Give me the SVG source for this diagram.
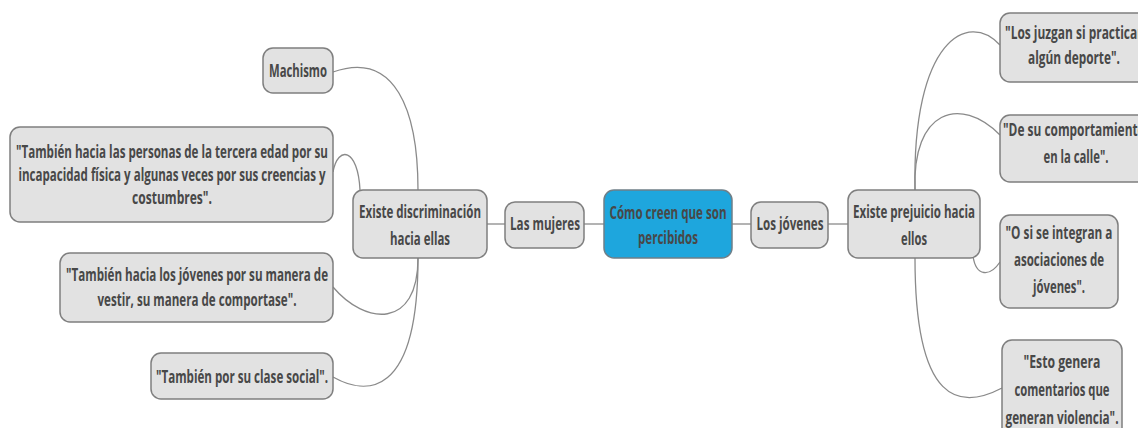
<svg xmlns="http://www.w3.org/2000/svg" width="1138" height="428" viewBox="0 0 1138 428">
<style>
.n{fill:#e2e2e2;stroke:#7f7f7f;stroke-width:1.5}
.c{fill:#1ea6dd;stroke:#6f7f88;stroke-width:1.5}
.t{font-family:"Open Sans","DejaVu Sans",sans-serif;font-weight:700;font-size:18px;fill:#484848;text-anchor:middle}
.l{fill:none;stroke:#8a8a8a;stroke-width:1.3}
</style>
<rect width="1138" height="428" fill="#ffffff"/>
<g id="connectors">
<line class="l" x1="487" y1="224" x2="505" y2="224"/>
<line class="l" x1="584" y1="224" x2="604" y2="224"/>
<line class="l" x1="732" y1="224" x2="751" y2="224"/>
<line class="l" x1="828" y1="224" x2="848" y2="224"/>
<path class="l" d="M418,190 C418,110 395,50 333,72"/>
<path class="l" d="M360,190 C358,148 338,145 333,172"/>
<path class="l" d="M418,258 C418,330 365,325 333,287"/>
<path class="l" d="M418,258 C418,400 365,395 333,377"/>
<path class="l" d="M915,190 C912,40 968,10 1000,45"/>
<path class="l" d="M915,190 C912,110 960,95 1000,135"/>
<path class="l" d="M973,256 C976,277 990,277 1000,262"/>
<path class="l" d="M915,258 C915,405 960,410 1002,388"/>
</g>
<g id="center">
<rect class="c" x="604" y="190" width="128" height="68" rx="10"/>
<text class="t" x="668" y="219" textLength="117" lengthAdjust="spacingAndGlyphs">Cómo creen que son</text>
<text class="t" x="668" y="244" textLength="60" lengthAdjust="spacingAndGlyphs">percibidos</text>
</g>
<g id="mujeres">
<rect class="n" x="505" y="202" width="79" height="46" rx="10"/>
<text class="t" x="545" y="230" textLength="70" lengthAdjust="spacingAndGlyphs">Las mujeres</text>
</g>
<g id="jovenes">
<rect class="n" x="751" y="202" width="77" height="46" rx="10"/>
<text class="t" x="790" y="230" textLength="67" lengthAdjust="spacingAndGlyphs">Los jóvenes</text>
</g>
<g id="discriminacion">
<rect class="n" x="353" y="190" width="134" height="68" rx="10"/>
<text class="t" x="420" y="218" textLength="122" lengthAdjust="spacingAndGlyphs">Existe discriminación</text>
<text class="t" x="420" y="245" textLength="60" lengthAdjust="spacingAndGlyphs">hacia ellas</text>
</g>
<g id="prejuicio">
<rect class="n" x="848" y="190" width="132" height="68" rx="10"/>
<text class="t" x="914" y="218" textLength="122" lengthAdjust="spacingAndGlyphs">Existe prejuicio hacia</text>
<text class="t" x="914" y="245" textLength="26" lengthAdjust="spacingAndGlyphs">ellos</text>
</g>
<g id="machismo">
<rect class="n" x="263" y="48" width="70" height="45" rx="10"/>
<text class="t" x="298" y="77" textLength="58" lengthAdjust="spacingAndGlyphs">Machismo</text>
</g>
<g id="tercera-edad">
<rect class="n" x="10" y="127" width="323" height="95" rx="10"/>
<text class="t" x="172" y="158" textLength="312" lengthAdjust="spacingAndGlyphs">"También hacia las personas de la tercera edad por su</text>
<text class="t" x="172" y="181" textLength="307" lengthAdjust="spacingAndGlyphs">incapacidad física y algunas veces por sus creencias y</text>
<text class="t" x="172" y="204" textLength="80" lengthAdjust="spacingAndGlyphs">costumbres".</text>
</g>
<g id="jovenes-vestir">
<rect class="n" x="60" y="253" width="273" height="69" rx="10"/>
<text class="t" x="197" y="281" textLength="262" lengthAdjust="spacingAndGlyphs">"También hacia los jóvenes por su manera de</text>
<text class="t" x="197" y="306" textLength="199" lengthAdjust="spacingAndGlyphs">vestir, su manera de comportase".</text>
</g>
<g id="clase-social">
<rect class="n" x="151" y="353" width="182" height="46" rx="10"/>
<text class="t" x="242" y="383" textLength="172" lengthAdjust="spacingAndGlyphs">"También por su clase social".</text>
</g>
<g id="deporte">
<rect class="n" x="1000" y="13" width="150" height="69" rx="10"/>
<text class="t" x="1075" y="39" textLength="140" lengthAdjust="spacingAndGlyphs">"Los juzgan si practican</text>
<text class="t" x="1074" y="64" textLength="92" lengthAdjust="spacingAndGlyphs">algún deporte".</text>
</g>
<g id="calle">
<rect class="n" x="1000" y="115" width="150" height="67" rx="10"/>
<text class="t" x="1074" y="136" textLength="142" lengthAdjust="spacingAndGlyphs">"De su comportamiento</text>
<text class="t" x="1076" y="163" textLength="65" lengthAdjust="spacingAndGlyphs">en la calle".</text>
</g>
<g id="asociaciones">
<rect class="n" x="1000" y="215" width="118" height="93" rx="10"/>
<text class="t" x="1059" y="239" textLength="107" lengthAdjust="spacingAndGlyphs">"O si se integran a</text>
<text class="t" x="1059" y="266" textLength="90" lengthAdjust="spacingAndGlyphs">asociaciones de</text>
<text class="t" x="1059" y="293" textLength="52" lengthAdjust="spacingAndGlyphs">jóvenes".</text>
</g>
<g id="violencia">
<rect class="n" x="1002" y="340" width="120" height="100" rx="10"/>
<text class="t" x="1062" y="368" textLength="77" lengthAdjust="spacingAndGlyphs">"Esto genera</text>
<text class="t" x="1062" y="396" textLength="95" lengthAdjust="spacingAndGlyphs">comentarios que</text>
<text class="t" x="1062" y="424" textLength="113" lengthAdjust="spacingAndGlyphs">generan violencia".</text>
</g>
</svg>
